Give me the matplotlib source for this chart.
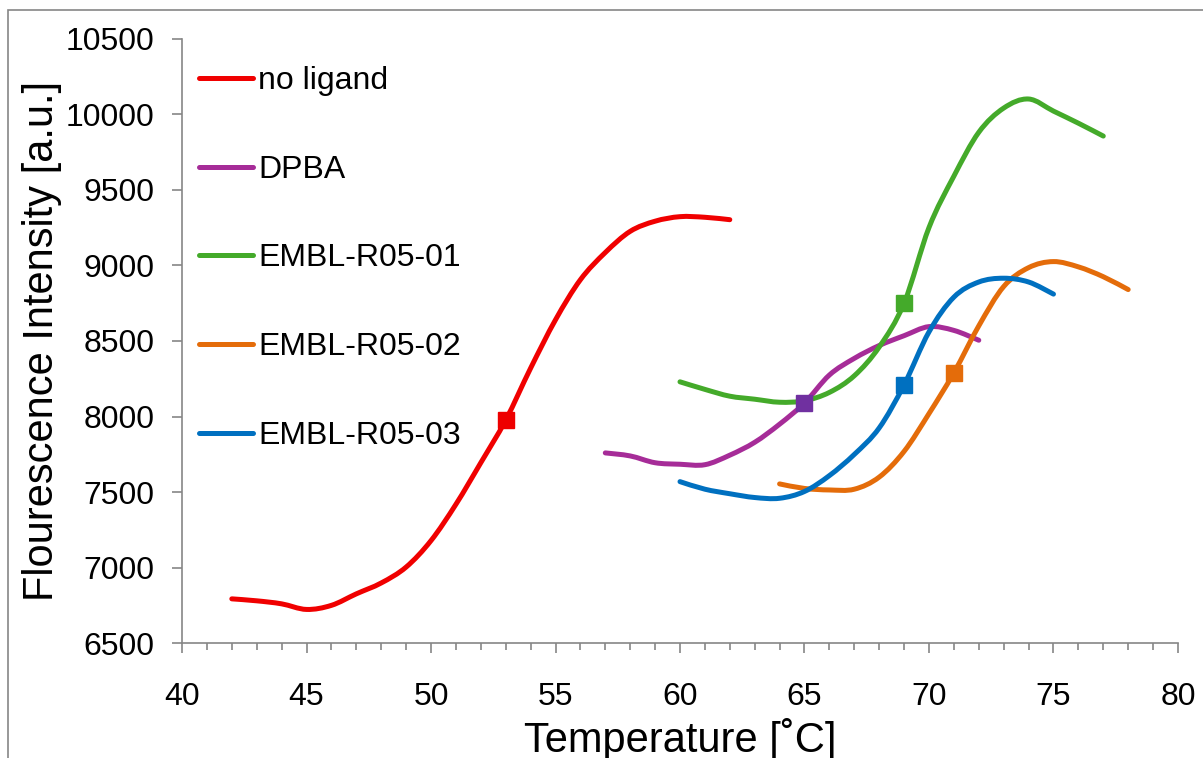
import numpy as np
import matplotlib
matplotlib.use('Agg')
import matplotlib.pyplot as plt
from matplotlib.path import Path
from matplotlib.patches import PathPatch, Rectangle
from matplotlib.lines import Line2D
from matplotlib.ticker import MultipleLocator

plt.rcParams['font.family'] = ['Liberation Sans', 'DejaVu Sans']

# melt curves (1 degree steps)
red_t = list(range(42, 63))
red_v = [6795, 6782, 6762, 6725, 6752, 6828, 6900, 7005, 7180, 7420, 7695, 7977,
         8320, 8640, 8905, 9085, 9225, 9292, 9322, 9318, 9302]
dpba_t = list(range(57, 73))
dpba_v = [7760, 7740, 7695, 7685, 7682, 7745, 7830, 7950, 8090, 8275, 8385, 8470,
          8535, 8595, 8570, 8505]
r01_t = list(range(60, 78))
r01_v = [8230, 8180, 8135, 8115, 8095, 8105, 8160, 8270, 8460, 8750, 9250, 9590,
         9880, 10040, 10100, 10020, 9940, 9855]
r02_t = list(range(64, 79))
r02_v = [7555, 7525, 7515, 7520, 7600, 7770, 8020, 8290, 8600, 8860, 8985, 9025,
         8990, 8925, 8840]
r03_t = list(range(60, 76))
r03_v = [7570, 7520, 7490, 7465, 7460, 7505, 7610, 7750, 7925, 8210, 8560, 8790,
         8890, 8915, 8890, 8810]

names = ['no ligand', 'DPBA', 'EMBL-R05-01', 'EMBL-R05-02', 'EMBL-R05-03']
line_colors = ['#F00000', '#A62C98', '#44AA2A', '#E46C0A', '#0070C0']
marker_colors = ['#EE0000', '#7030A0', '#44AA2A', '#E46C0A', '#0070C0']
# melting points (square markers)
tm_t = [53, 65, 69, 71, 69]
tm_v = [7977, 8090, 8750, 8290, 8210]

series = [(red_t, red_v), (dpba_t, dpba_v), (r01_t, r01_v), (r02_t, r02_v), (r03_t, r03_v)]


def smooth_path(x, y):
    # excel style smoothed line: cubic bezier through every point
    p = np.column_stack([x, y]).astype(float)
    n = len(p)
    verts = [p[0]]
    codes = [Path.MOVETO]
    for i in range(n - 1):
        p0 = p[i - 1] if i > 0 else p[i]
        p3 = p[i + 2] if i + 2 < n else p[i + 1]
        c1 = p[i] + (p[i + 1] - p0) / 6.0
        c2 = p[i + 1] - (p3 - p[i]) / 6.0
        verts += [c1, c2, p[i + 1]]
        codes += [Path.CURVE4] * 3
    return Path(verts, codes)


fig = plt.figure(figsize=(12.03, 7.58), dpi=100)
ax = fig.add_axes([0.1513, 0.1511, 0.8279, 0.7981])

grey = '#868686'
lw = 3.6
for (t, v), c in zip(series, line_colors):
    patch = PathPatch(smooth_path(t, v), facecolor='none', edgecolor=c, lw=lw,
                      capstyle='round', joinstyle='round', zorder=2)
    ax.add_patch(patch)

for t, v, c in zip(tm_t, tm_v, marker_colors):
    ax.plot([t], [v], 's', color=c, markersize=12, zorder=3)

ax.set_xlim(40, 80)
ax.set_ylim(6500, 10500)
ax.xaxis.set_major_locator(MultipleLocator(5))
ax.xaxis.set_minor_locator(MultipleLocator(1))
ax.yaxis.set_major_locator(MultipleLocator(500))

for s in ['top', 'right']:
    ax.spines[s].set_visible(False)
for s in ['left', 'bottom']:
    ax.spines[s].set_color(grey)
    ax.spines[s].set_linewidth(1.2)

ax.tick_params(axis='both', which='major', direction='out', color=grey, width=1.2,
               length=7, labelsize=23)
ax.tick_params(axis='x', which='minor', direction='out', color=grey, width=1.2, length=5)
ax.tick_params(axis='x', which='major', pad=21)
ax.tick_params(axis='y', which='major', pad=13)

ax.set_xlabel('Temperature [\u02daC]', fontsize=30)
ax.set_ylabel('Flourescence Intensity [a.u.]', fontsize=30)
ax.xaxis.set_label_coords(0.5, -0.124)
ax.yaxis.set_label_coords(-0.12, 0.5)

handles = [Line2D([], [], color=c, lw=lw, solid_capstyle='round') for c in line_colors]
ax.legend(handles, names, loc='upper left', bbox_to_anchor=(0.0171, 0.9547),
          frameon=False, fontsize=23, borderpad=0, borderaxespad=0,
          handlelength=1.69, handletextpad=0.16, labelspacing=1.84)

# outer chart border
fig.add_artist(Rectangle((7.5 / 1203, -0.5), 2, 1.5 - 10 / 758, transform=fig.transFigure,
                         fill=False, edgecolor=grey, lw=1.2, clip_on=False))

fig.savefig('out.png', dpi=100)
